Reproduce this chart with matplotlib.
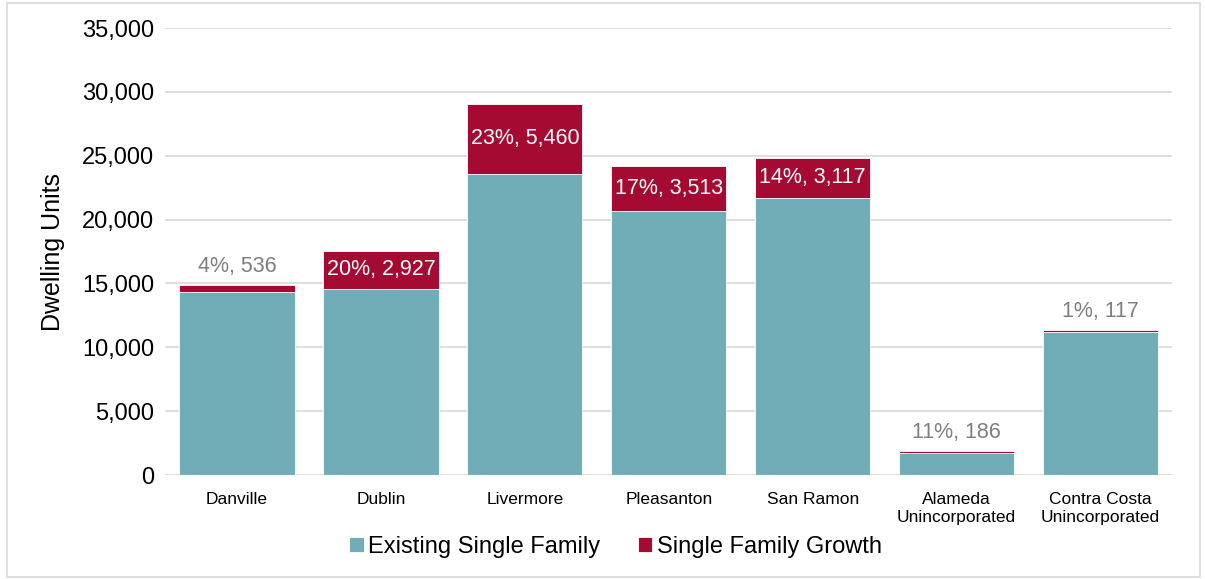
import matplotlib
matplotlib.use("Agg")
import matplotlib.pyplot as plt
import numpy as np
from matplotlib.patches import Rectangle

plt.rcParams["font.family"] = ["Liberation Sans", "DejaVu Sans"]

categories = ["Danville", "Dublin", "Livermore", "Pleasanton", "San Ramon",
              "Alameda\nUnincorporated", "Contra Costa\nUnincorporated"]
existing = [14340, 14600, 23590, 20690, 21700, 1690, 11230]
growth = [536, 2927, 5460, 3513, 3117, 186, 117]
pct = [4, 20, 23, 17, 14, 11, 1]
inside = [False, True, True, True, True, False, False]

TEAL = "#70ADB7"
RED = "#A50B32"

fig = plt.figure(figsize=(12.05, 5.79), dpi=100)
ax = fig.add_axes([0.137, 0.1796, 0.836, 0.772])

x = np.arange(len(categories))
ax.bar(x, existing, 0.8, color=TEAL, edgecolor="white", linewidth=0.6,
       label="Existing Single Family", zorder=3)
ax.bar(x, growth, 0.8, bottom=existing, color=RED, edgecolor="white",
       linewidth=0.6, label="Single Family Growth", zorder=3)

for i in range(len(categories)):
    txt = f"{pct[i]}%, {growth[i]:,}"
    if inside[i]:
        ax.text(x[i], existing[i] + growth[i] / 2, txt, ha="center",
                va="center", color="white", fontsize=15.5, zorder=4)
    else:
        ax.text(x[i], existing[i] + growth[i] + 600, txt, ha="center",
                va="bottom", color="#7F7F7F", fontsize=15.5, zorder=4)

ax.set_xlim(-0.5, len(categories) - 0.5)
ax.set_ylim(0, 35000)
ax.set_yticks(np.arange(0, 35001, 5000))
ax.set_yticklabels([f"{v:,}" for v in range(0, 35001, 5000)], fontsize=17)
ax.set_xticks(x)
ax.set_xticklabels(categories, fontsize=12.5, linespacing=1.25)
ax.tick_params(axis="y", length=0, pad=8)
ax.tick_params(axis="x", length=0, pad=12)
ax.set_ylabel("Dwelling Units", fontsize=18, labelpad=12)
ax.grid(True, axis="y", color="#D9D9D9", linewidth=1.2, zorder=0)
for s in ax.spines.values():
    s.set_visible(False)

fig.legend(loc="lower center", bbox_to_anchor=(0.511, 0.0), ncol=2,
           frameon=False, fontsize=17, handlelength=0.6, handleheight=0.6,
           handletextpad=0.2, columnspacing=1.6)

fig.patches.append(Rectangle((0.006, 0.004), 0.99, 0.99,
                             transform=fig.transFigure, fill=False,
                             edgecolor="#D9D9D9", linewidth=1.2))

fig.savefig("out.png", dpi=100)
